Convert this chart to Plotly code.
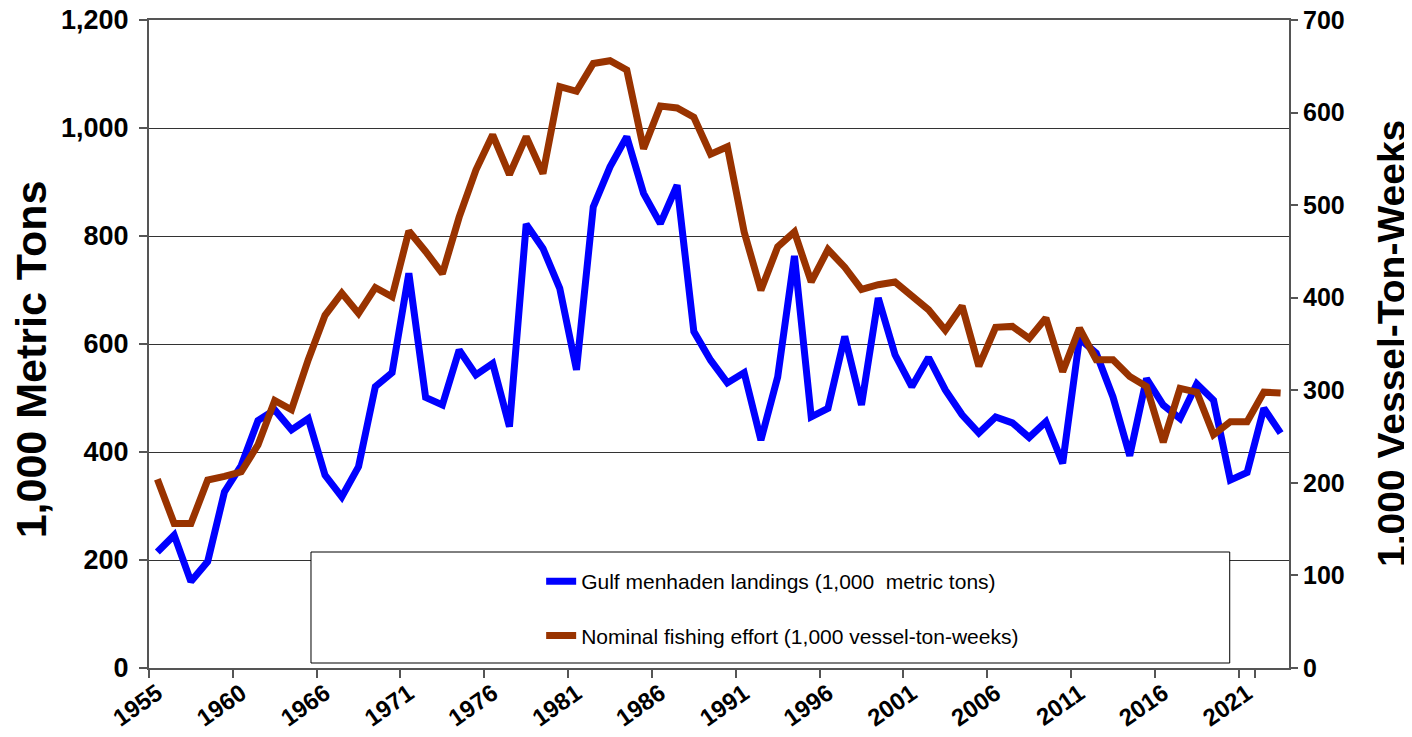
import plotly.graph_objects as go

# Category labels (68 annual points); tick labels shown every 5th category
years = [str(y) for y in list(range(1955, 1961)) + list(range(1962, 2024))]
tick_labels = ["1955", "1960", "1966", "1971", "1976", "1981", "1986",
               "1991", "1996", "2001", "2006", "2011", "2016", "2021"]

# Gulf menhaden landings (1,000 metric tons) - left axis
landings = [215, 246, 160, 197, 326, 375, 458, 478, 441, 462,
            357, 317, 373, 521, 547, 731, 501, 487, 589, 543,
            564, 447, 822, 777, 703, 552, 854, 928, 984, 879,
            823, 894, 623, 570, 528, 547, 422, 539, 763, 465,
            481, 614, 487, 685, 580, 521, 575, 515, 469, 435,
            465, 454, 427, 456, 379, 610, 583, 502, 393, 536,
            487, 462, 526, 496, 348, 362, 481, 435]

# Nominal fishing effort (1,000 vessel-ton-weeks) - right axis
effort = [204, 156, 156, 203, 207, 212, 241, 289, 279, 333,
          381, 405, 383, 411, 401, 472, 450, 426, 487, 538,
          576, 533, 574, 534, 628, 623, 653, 656, 646, 561,
          607, 605, 595, 555, 563, 471, 408, 455, 471, 417,
          452, 433, 409, 414, 417, 401, 387, 365, 391, 326,
          368, 369, 356, 378, 320, 367, 333, 333, 315, 304,
          244, 302, 298, 252, 266, 266, 298, 297]

left_ticks = [0, 200, 400, 600, 800, 1000, 1200]
right_ticks = [0, 100, 200, 300, 400, 500, 600, 700]

FONT = "Arial, Liberation Sans, sans-serif"

fig = go.Figure()
fig.add_trace(go.Scatter(
    x=years, y=landings, mode="lines", name="Gulf menhaden landings (1,000  metric tons)",
    line=dict(color="#0000FF", width=7), legendgroup="a", yaxis="y"))
fig.add_trace(go.Scatter(
    x=years, y=effort, mode="lines", name="Nominal fishing effort (1,000 vessel-ton-weeks)",
    line=dict(color="#993300", width=7), legendgroup="b", yaxis="y2"))

fig.update_layout(
    width=1404, height=729,
    margin=dict(l=141, r=123, t=12, b=69, autoexpand=False),
    paper_bgcolor="white", plot_bgcolor="white",
    font=dict(family=FONT, color="black"),
    xaxis=dict(
        type="category", tickmode="array", tickvals=years[::5], ticktext=tick_labels,
        tickson="boundaries", ticks="outside", ticklen=8, tickwidth=2, tickcolor="#555555",
        showline=True, linecolor="#555555", linewidth=2, mirror=True,
        showgrid=False, automargin=False, ticklabeloverflow="allow",
        tickangle=-35, tickfont=dict(size=24, family=FONT, weight="bold"),
        range=[-0.5, len(years) - 0.5]),
    yaxis=dict(
        range=[0, 1200], tickvals=left_ticks, ticktext=[f"{v:,}" for v in left_ticks],
        ticks="outside", ticklen=8, tickwidth=2, tickcolor="#555555", automargin=False,
        ticklabeloverflow="allow", ticklabelstandoff=5,
        showline=True, linecolor="#555555", linewidth=2,
        showgrid=True, gridcolor="#333333", gridwidth=1, zeroline=False,
        tickfont=dict(size=27, family=FONT, weight="bold")),
    yaxis2=dict(
        range=[0, 700], tickvals=right_ticks, overlaying="y", side="right",
        ticks="outside", ticklen=7, tickwidth=2, tickcolor="#555555", automargin=False,
        ticklabeloverflow="allow",
        showline=True, linecolor="#555555", linewidth=2, showgrid=False, zeroline=False,
        tickfont=dict(size=25, family=FONT, weight="bold")),
    showlegend=True,
    legend=dict(x=0.344, xanchor="left", y=0.165, yanchor="top",
                bgcolor="rgba(0,0,0,0)", borderwidth=0, tracegroupgap=24,
                font=dict(size=21, family=FONT)),
    shapes=[dict(type="rect", xref="paper", yref="paper",
                 x0=0.1421, x1=0.948, y0=0.0077, y1=0.179,
                 fillcolor="white", line=dict(color="black", width=1), layer="above")],
    annotations=[
        dict(text="1,000 Metric Tons", xref="paper", yref="paper", x=-0.104, y=0.477,
             textangle=-90, showarrow=False, xanchor="center", yanchor="middle",
             font=dict(size=43, family=FONT, weight="bold")),
        dict(text="1,000 Vessel-Ton-Weeks", xref="paper", yref="paper", x=1.0895, y=0.5,
             textangle=-90, showarrow=False, xanchor="center", yanchor="middle",
             font=dict(size=39, family=FONT, weight="bold")),
    ],
)

fig.write_html("out.html")
